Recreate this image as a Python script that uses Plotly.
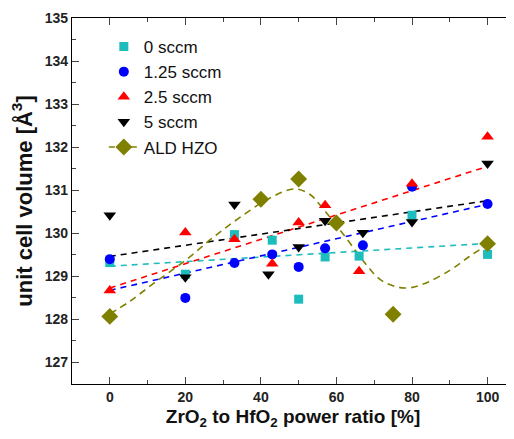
import numpy as np
import plotly.graph_objects as go

# ---- data ----
x_0sccm = [0, 20, 33, 43, 50, 57, 66, 80, 100]
y_0sccm = [129.32, 129.05, 129.97, 129.84, 128.47, 129.45, 129.47, 130.42, 129.51]

x_125sccm = [0, 20, 33, 43, 50, 57, 67, 80, 100]
y_125sccm = [129.40, 128.50, 129.31, 129.51, 129.22, 129.65, 129.72, 131.08, 130.68]

x_25sccm = [0, 20, 33, 43, 50, 57, 66, 80, 100]
y_25sccm = [128.67, 130.02, 129.86, 129.29, 130.25, 130.65, 129.12, 131.15, 132.24]

x_5sccm = [0, 20, 33, 42, 50, 57, 67, 80, 100]
y_5sccm = [130.42, 128.98, 130.67, 129.05, 129.68, 130.29, 130.01, 130.26, 131.62]

x_ald = [0, 40, 50, 60, 75, 100]
y_ald = [128.07, 130.79, 131.26, 130.24, 128.12, 129.76]

# guide curve through ALD HZO
x_ald_curve = [0, 5, 11.5, 20, 27, 34, 42, 49, 53, 56, 62.5, 67, 72, 78, 83, 90, 95, 100]
y_ald_curve = [128.13, 128.40, 128.83, 129.37, 129.88, 130.34, 130.80, 131.03, 130.90,
               130.62, 129.90, 129.37, 128.90, 128.73, 128.82, 129.14, 129.45, 129.74]

x_ticks = [0, 20, 40, 60, 80, 100]
y_ticks = [127, 128, 129, 130, 131, 132, 133, 134, 135]

series = [
    ("0 sccm", x_0sccm, y_0sccm, "#1DBDBD", "square", 9),
    ("1.25 sccm", x_125sccm, y_125sccm, "#0000FF", "circle", 10),
    ("2.5 sccm", x_25sccm, y_25sccm, "#FF0000", "triangle-up", 11),
    ("5 sccm", x_5sccm, y_5sccm, "#000000", "triangle-down", 11),
]

fig = go.Figure()

# linear fits (dashed)
for name, xs, ys, col, sym, sz in series:
    k, b = np.polyfit(xs, ys, 1)
    xf = np.array([min(xs), max(xs)])
    fig.add_trace(go.Scatter(x=xf, y=k * xf + b, mode="lines", showlegend=False,
                             hoverinfo="skip",
                             line=dict(color=col, width=1.6, dash="6px,5px")))

fig.add_trace(go.Scatter(x=x_ald_curve, y=y_ald_curve, mode="lines", showlegend=False,
                         line=dict(color="#808000", width=1.6, dash="7px,5px", shape="spline")))

for name, xs, ys, col, sym, sz in series:
    fig.add_trace(go.Scatter(x=xs, y=ys, mode="markers", name=name,
                             marker=dict(color=col, symbol=sym, size=sz, line=dict(width=0))))

fig.add_trace(go.Scatter(x=x_ald, y=y_ald, mode="markers", name="ALD HZO", showlegend=False,
                         legendgroup="ald",
                         marker=dict(color="#808000", symbol="diamond", size=13, line=dict(width=0))))
fig.add_trace(go.Scatter(x=[None], y=[None], mode="lines+markers", name="ALD HZO",
                         legendgroup="ald",
                         line=dict(color="#808000", width=1.6, dash="6px,5px"),
                         marker=dict(color="#808000", symbol="diamond", size=13, line=dict(width=0))))

axis_font = dict(family="Liberation Sans, Arial, sans-serif", size=19, color="#111111")
yaxis_font = dict(family="Liberation Sans, Arial, sans-serif", size=22, color="#111111")
tick_font = dict(family="Liberation Sans, Arial, sans-serif", size=14, color="#222222", weight="bold")

fig.update_layout(
    width=506, height=431,
    margin=dict(l=64, r=0, t=10, b=55),
    paper_bgcolor="white", plot_bgcolor="white",
    font=dict(family="Liberation Sans, Arial, sans-serif"),
    legend=dict(x=0.072, y=0.97, xanchor="left", yanchor="top",
                bgcolor="rgba(0,0,0,0)", font=dict(size=17, color="#111111"),
                itemwidth=30, tracegroupgap=0),
    xaxis=dict(range=[-10, 107], tickvals=x_ticks, ticks="inside", ticklen=7,
               showline=True, linecolor="black", linewidth=1.2, mirror="ticks",
               showgrid=False, zeroline=False, tickfont=tick_font,
               minor=dict(ticks="inside", dtick=10, tick0=0, ticklen=4, showgrid=False),
               title=dict(text="<b>ZrO<sub>2</sub> to HfO<sub>2</sub> power ratio [%]</b>",
                          font=axis_font, standoff=5)),
    yaxis=dict(range=[126.5, 135], tickvals=y_ticks, ticks="inside", ticklen=7,
               showline=True, linecolor="black", linewidth=1.2, mirror=False,
               showgrid=False, zeroline=False, tickfont=tick_font,
               minor=dict(ticks="inside", dtick=0.5, tick0=127, ticklen=4, showgrid=False),
               title=dict(text="<b>unit cell volume [Å<sup>3</sup>]</b>",
                          font=yaxis_font, standoff=6)),
)

fig.write_html("out.html")
